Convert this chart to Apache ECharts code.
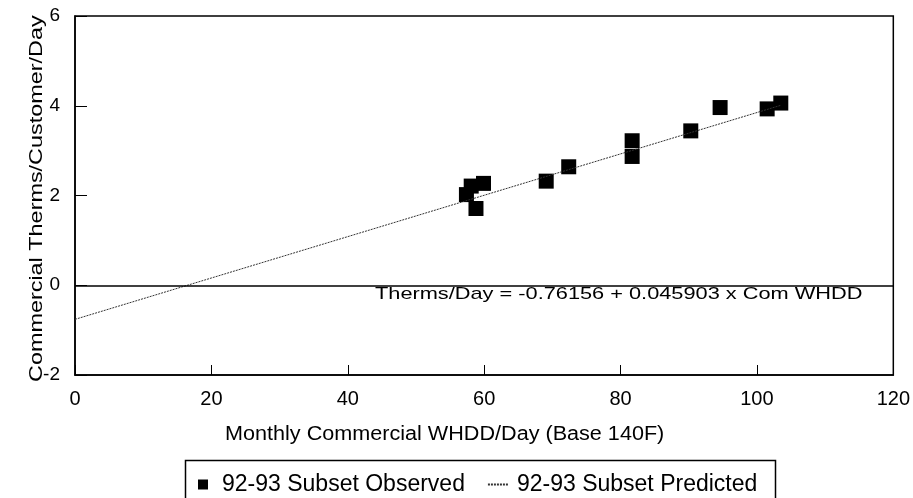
<!DOCTYPE html>
<html>
<head>
<meta charset="utf-8">
<script src="https://cdn.jsdelivr.net/npm/echarts@6/dist/echarts.min.js"></script>
<style>
  html, body { margin: 0; padding: 0; background: #fff; }
  #main { width: 913px; height: 498px; }
</style>
</head>
<body>
<div id="main"></div>
<script>
// observed points: [WHDD/day, therms/customer/day]
var observedX = [57.4, 58.1, 59.9, 58.8, 69.1, 72.4, 81.7, 81.7, 90.3, 94.6, 101.5, 103.5];
var observedY = [2.02, 2.21, 2.27, 1.71, 2.32, 2.64, 3.22, 2.87, 3.44, 3.96, 3.93, 4.06];
// fitted line end points as drawn
var predictedX = [0, 103.5];
var predictedY = [-0.76, 4.01];
var xTicks = [0, 20, 40, 60, 80, 100, 120];
var yTicks = [-2, 0, 2, 4, 6];

var font = 'Liberation Sans, Arial, sans-serif';

var chartDom = document.getElementById('main');
var myChart = echarts.init(chartDom);

var option = {
  animation: false,
  textStyle: { fontFamily: font, color: '#000' },
  grid: {
    left: 75, right: 19, top: 16, bottom: 123,
    show: true, borderColor: '#000', borderWidth: 1.5
  },
  legend: {
    left: 193, top: 468,
    itemGap: 22, itemWidth: 20, itemHeight: 10,
    textStyle: { fontSize: 23, color: '#000', fontFamily: font, padding: [0, 0, 0, 4] },
    data: [
      { name: '92-93 Subset Observed', icon: 'path://M0,0h10v10h-10z' },
      { name: '92-93 Subset Predicted', itemStyle: { opacity: 0 } }
    ]
  },
  xAxis: {
    type: 'value',
    min: xTicks[0], max: xTicks[xTicks.length - 1], interval: 20,
    axisLine: { onZero: false, lineStyle: { color: '#000', width: 1.5 } },
    axisTick: { inside: true, length: 10, lineStyle: { color: '#000' } },
    axisLabel: { fontSize: 20, color: '#000', margin: 14 },
    splitLine: { show: false }
  },
  yAxis: {
    type: 'value',
    min: yTicks[0], max: yTicks[yTicks.length - 1], interval: 2,
    axisLine: { lineStyle: { color: '#000', width: 1.5 } },
    axisTick: { inside: true, length: 12, lineStyle: { color: '#000' } },
    axisLabel: { fontSize: 19, color: '#000', margin: 15 },
    splitLine: { show: false }
  },
  graphic: [
    {
      // y axis title, stretched along its length like the scan
      type: 'text', x: 28, y: 382, rotation: Math.PI / 2,
      scaleX: 1.3,
      style: { text: 'Commercial Therms/Customer/Day', font: '18px ' + font, fill: '#000' }
    },
    {
      type: 'text', x: 225, y: 424, scaleX: 1.08,
      style: { text: 'Monthly Commercial WHDD/Day (Base 140F)', font: '20px ' + font, fill: '#000' }
    },
    {
      type: 'text', x: 375, y: 286, scaleX: 1.28,
      style: { text: 'Therms/Day = -0.76156 + 0.045903 x Com WHDD', font: '17px ' + font, fill: '#000' }
    },
    {
      type: 'rect', left: 183, top: 458,
      shape: { width: 590, height: 60 },
      style: { fill: 'none', stroke: '#000', lineWidth: 1.5 }
    }
  ],
  series: [
    {
      name: '92-93 Subset Predicted',
      type: 'line',
      symbol: 'none',
      data: predictedX.map(function (x, i) { return [x, predictedY[i]]; }),
      lineStyle: { color: '#333', width: 1, type: [2, 1] },
      itemStyle: { color: '#333' },
      markLine: {
        silent: true, symbol: 'none',
        label: { show: false },
        lineStyle: { color: '#000', width: 1.5, type: 'solid' },
        data: [{ yAxis: 0 }]
      }
    },
    {
      name: '92-93 Subset Observed',
      type: 'scatter',
      symbol: 'rect',
      symbolSize: 15,
      data: observedX.map(function (x, i) { return [x, observedY[i]]; }),
      itemStyle: { color: '#000', opacity: 1 }
    }
  ]
};

myChart.setOption(option);
</script>
</body>
</html>
